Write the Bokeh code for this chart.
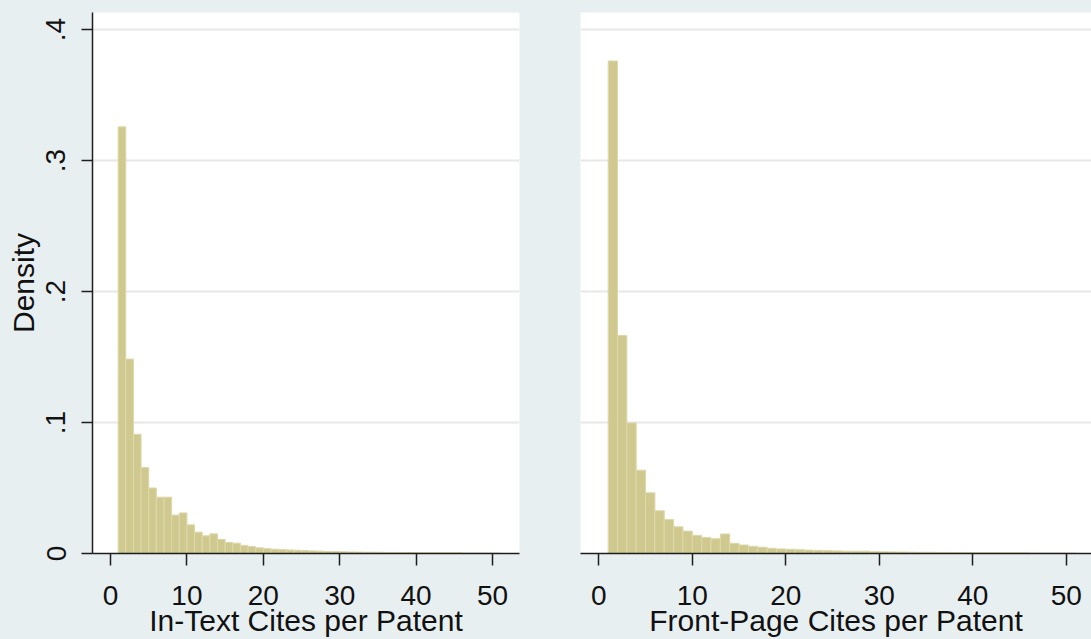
import numpy as np
from bokeh.plotting import figure
from bokeh.models import Range1d, FixedTicker
from bokeh.layouts import row
from bokeh.embed import file_html
from bokeh.resources import INLINE

# ---- data ----
bin_edges = list(range(1, 52))  # 50 bins of width 1, from 1 to 51

in_text_density = [0.3257, 0.1484, 0.0910, 0.0656, 0.0500, 0.0430, 0.0430, 0.0293, 0.0310, 0.0219,
                   0.0163, 0.0135, 0.0150, 0.0108, 0.0084, 0.0079, 0.0062, 0.0053, 0.0043, 0.0037,
                   0.0033, 0.0030, 0.0027, 0.0025, 0.0022, 0.0020, 0.0018, 0.0016, 0.0015, 0.0013,
                   0.0012, 0.0011, 0.0010, 0.0010, 0.0009, 0.0008, 0.0008, 0.0007, 0.0007, 0.0006,
                   0.0006, 0.0006, 0.0005, 0.0005, 0.0005, 0.0004, 0.0004, 0.0004, 0.0004, 0.0003]

front_page_density = [0.3760, 0.1665, 0.0997, 0.0636, 0.0463, 0.0326, 0.0260, 0.0204, 0.0171, 0.0139,
                      0.0123, 0.0113, 0.0149, 0.0078, 0.0065, 0.0055, 0.0048, 0.0040, 0.0035, 0.0032,
                      0.0029, 0.0026, 0.0024, 0.0022, 0.0020, 0.0018, 0.0017, 0.0018, 0.0014, 0.0013,
                      0.0012, 0.0011, 0.0010, 0.0009, 0.0009, 0.0008, 0.0008, 0.0007, 0.0007, 0.0006,
                      0.0006, 0.0006, 0.0005, 0.0005, 0.0005, 0.0004, 0.0004, 0.0004, 0.0004, 0.0003]

x_ticks = [0, 10, 20, 30, 40, 50]
y_ticks = [0, 0.1, 0.2, 0.3, 0.4]
y_tick_labels = ["0", ".1", ".2", ".3", ".4"]
x_titles = ["In-Text Cites per Patent", "Front-Page Cites per Patent"]
y_title = "Density"

# ---- style ----
BG = "#e8eff1"
BAR_FILL = "#d0c98f"
BAR_LINE = "#ddd8ab"
GRID = "#e8e8e8"
AXIS = "#1e1e1e"
TEXT = "#111111"
FONT = "Liberation Sans"

lefts = bin_edges[:-1]
rights = bin_edges[1:]


def style_common(p):
    p.background_fill_color = "white"
    p.border_fill_color = BG
    p.outline_line_color = None
    p.xgrid.visible = False
    p.ygrid.ticker = FixedTicker(ticks=y_ticks)
    p.ygrid.grid_line_color = GRID
    p.ygrid.grid_line_width = 2
    ax = p.xaxis[0]
    ax.ticker = FixedTicker(ticks=x_ticks)
    ax.axis_line_color = AXIS
    ax.axis_line_width = 1.5
    ax.major_tick_line_color = AXIS
    ax.major_tick_line_width = 1.5
    ax.major_tick_out = 12
    ax.major_tick_in = 0
    ax.minor_tick_line_color = None
    ax.major_label_text_font = FONT
    ax.major_label_text_font_size = "28px"
    ax.major_label_text_color = TEXT
    ax.major_label_standoff = 20
    ax.axis_label_text_font = FONT
    ax.axis_label_text_font_size = "30px"
    ax.axis_label_text_font_style = "normal"
    ax.axis_label_text_color = TEXT
    ax.axis_label_standoff = -4


y_rng = (0, 0.413)

# left panel
p1 = figure(width=549, height=639, x_range=Range1d(-2.36, 53.53), y_range=Range1d(*y_rng),
            toolbar_location=None, output_backend="svg",
            min_border_left=92, min_border_right=30, min_border_top=12, min_border_bottom=86,
            x_axis_label=x_titles[0], y_axis_label=y_title)
style_common(p1)
p1.quad(left=lefts, right=rights, bottom=0, top=in_text_density,
        fill_color=BAR_FILL, line_color=BAR_LINE, line_width=1)
ya = p1.yaxis[0]
ya.ticker = FixedTicker(ticks=y_ticks)
ya.major_label_overrides = dict(zip(y_ticks, y_tick_labels))
ya.major_label_orientation = "vertical"
ya.axis_line_color = AXIS
ya.axis_line_width = 1.5
ya.major_tick_line_color = AXIS
ya.major_tick_line_width = 1.5
ya.major_tick_out = 11
ya.major_tick_in = 0
ya.minor_tick_line_color = None
ya.major_label_text_font = FONT
ya.major_label_text_font_size = "28px"
ya.major_label_text_color = TEXT
ya.major_label_standoff = 16
ya.axis_label_text_font = FONT
ya.axis_label_text_font_size = "30px"
ya.axis_label_text_font_style = "normal"
ya.axis_label_text_color = TEXT
ya.axis_label_standoff = 4

# right panel
p2 = figure(width=542, height=639, x_range=Range1d(-1.96, 52.7), y_range=Range1d(*y_rng),
            toolbar_location=None, output_backend="svg", y_axis_location=None,
            min_border_left=31, min_border_right=0, min_border_top=12, min_border_bottom=86,
            x_axis_label=x_titles[1])
style_common(p2)
p2.quad(left=lefts, right=rights, bottom=0, top=front_page_density,
        fill_color=BAR_FILL, line_color=BAR_LINE, line_width=1)

layout = row(p1, p2)
layout.spacing = 0
layout.styles = {"background-color": BG}

open("out.html", "w").write(file_html(layout, INLINE))
